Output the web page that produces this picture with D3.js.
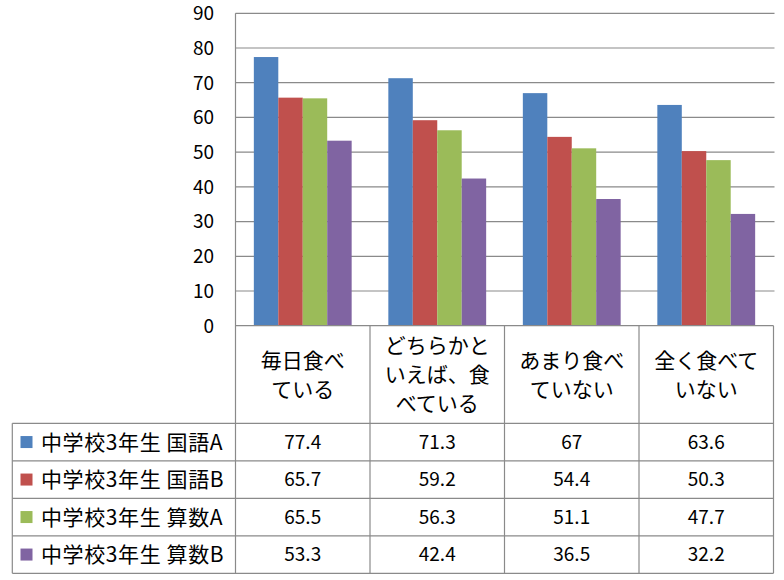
<!DOCTYPE html>
<html><head><meta charset="utf-8">
<script src="https://cdn.jsdelivr.net/npm/d3@7"></script>
<style>html,body{margin:0;padding:0;background:#fff;}</style>
</head><body>
<svg id="c" width="784" height="580"></svg>
<script>
const categories = [["毎日食べ","ている"],["どちらかと","いえば、食","べている"],["あまり食べ","ていない"],["全く食べて","いない"]];
const categoryKeys = ["毎日食べている","どちらかといえば、食べている","あまり食べていない","全く食べていない"];
const seriesNames = ["中学校3年生 国語A","中学校3年生 国語B","中学校3年生 算数A","中学校3年生 算数B"];
const seriesColors = ["#4F81BD","#C0504D","#9BBB59","#8064A2"];
const valuesKokugoA = [77.4, 71.3, 67, 63.6];
const valuesKokugoB = [65.7, 59.2, 54.4, 50.3];
const valuesSansuA = [65.5, 56.3, 51.1, 47.7];
const valuesSansuB = [53.3, 42.4, 36.5, 32.2];
const valueLabels = [["77.4","71.3","67","63.6"],["65.7","59.2","54.4","50.3"],["65.5","56.3","51.1","47.7"],["53.3","42.4","36.5","32.2"]];
const yTicks = [0,10,20,30,40,50,60,70,80,90];

(function(){
const series = [valuesKokugoA, valuesKokugoB, valuesSansuA, valuesSansuB];
const svg = d3.select("#c");
const font = "'Noto Sans CJK JP', 'Noto Sans', sans-serif";
const gridColor = "#8a8a8a";

const pLeft = 235.5, pRight = 773.5, pTop = 13.3, pBottom = 325.7;
const tableLeft = 12.3;
const headerBottom = 423.3, rowH = 37.5;

const x = d3.scaleBand().domain(categoryKeys).range([pLeft, pRight]).padding(0);
const x1 = d3.scaleBand().domain(d3.range(seriesNames.length)).range([0, x.bandwidth()]).paddingInner(0).paddingOuter(0.75);
const y = d3.scaleLinear().domain([0, 90]).range([pBottom, pTop]);

svg.append("g").selectAll("line").data(yTicks.filter(d => d > 0)).join("line")
  .attr("x1", pLeft).attr("x2", pRight + 1).attr("y1", d => y(d)).attr("y2", d => y(d))
  .attr("stroke", gridColor).attr("stroke-width", 1.2);

series.forEach((vals, si) => {
  svg.append("g").selectAll("rect").data(vals).join("rect")
    .attr("x", (d, i) => x(categoryKeys[i]) + x1(si))
    .attr("width", x1.bandwidth())
    .attr("y", d => y(d))
    .attr("height", d => y(0) - y(d))
    .attr("fill", seriesColors[si]);
});

svg.append("g").selectAll("text").data(yTicks).join("text")
  .attr("x", 214).attr("y", d => y(d)).attr("dy", "0.36em")
  .attr("text-anchor", "end").attr("font-family", font).attr("font-size", 19).attr("fill", "#000")
  .text(d => d);

const lines = svg.append("g").attr("stroke", gridColor).attr("stroke-width", 1.2);
const tableBottom = headerBottom + rowH * seriesNames.length;
lines.append("line").attr("x1", pLeft).attr("x2", pLeft).attr("y1", pTop).attr("y2", tableBottom);
lines.append("line").attr("x1", pLeft).attr("x2", pRight).attr("y1", pBottom).attr("y2", pBottom);
categoryKeys.forEach(k => {
  const xr = x(k) + x.bandwidth();
  lines.append("line").attr("x1", xr).attr("x2", xr).attr("y1", pBottom).attr("y2", tableBottom);
});
d3.range(seriesNames.length + 1).forEach(r => {
  const yy = headerBottom + r * rowH;
  lines.append("line").attr("x1", tableLeft).attr("x2", pRight).attr("y1", yy).attr("y2", yy);
});
lines.append("line").attr("x1", tableLeft).attr("x2", tableLeft).attr("y1", headerBottom).attr("y2", tableBottom);

const headerMid = (pBottom + headerBottom) / 2;
const lh = 29;
categories.forEach((lns, i) => {
  const cx = x(categoryKeys[i]) + x.bandwidth() / 2;
  const t = svg.append("text").attr("text-anchor", "middle").attr("font-family", font).attr("font-size", 21).attr("fill", "#000");
  lns.forEach((s, j) => {
    t.append("tspan").attr("x", cx).attr("y", headerMid + (j - (lns.length - 1) / 2) * lh).attr("dy", "0.36em").text(s);
  });
});

seriesNames.forEach((name, si) => {
  const cy = headerBottom + si * rowH + rowH / 2;
  svg.append("rect").attr("x", 20.5).attr("y", cy - 6).attr("width", 12).attr("height", 12).attr("fill", seriesColors[si]);
  svg.append("text").attr("x", 41).attr("y", cy).attr("dy", "0.36em").attr("font-family", font).attr("font-size", 21)
    .attr("letter-spacing", 0.6).attr("fill", "#000").text(name);
  valueLabels[si].forEach((v, i) => {
    svg.append("text").attr("x", x(categoryKeys[i]) + x.bandwidth() / 2).attr("y", cy).attr("dy", "0.36em")
      .attr("text-anchor", "middle").attr("font-family", font).attr("font-size", 19).attr("fill", "#000").text(v);
  });
});
})();
</script>
</body></html>
